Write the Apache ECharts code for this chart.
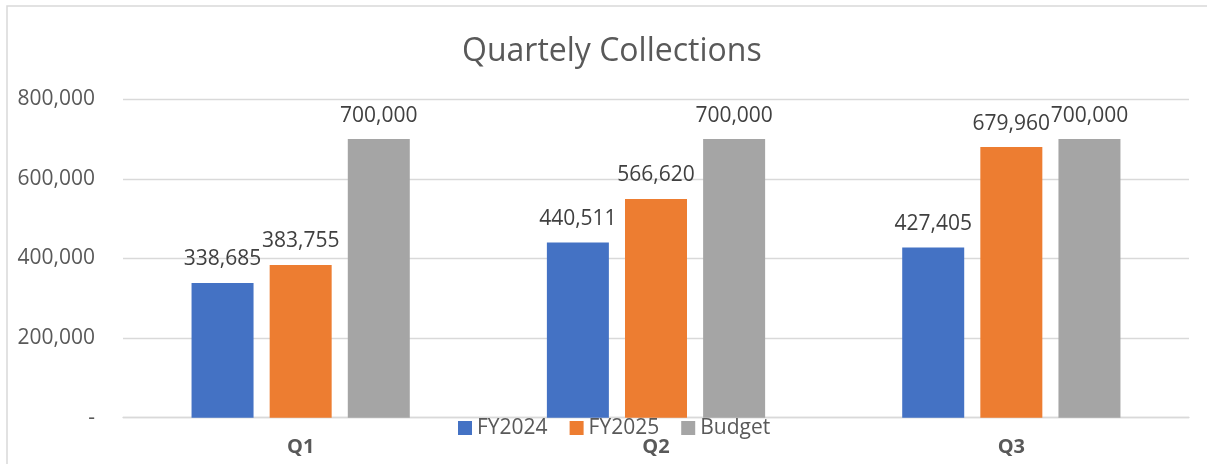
<!DOCTYPE html>
<html>
<head>
<meta charset="utf-8">
<script src="https://cdn.jsdelivr.net/npm/echarts@6/dist/echarts.min.js"></script>
<style>
  html, body { margin: 0; padding: 0; background: #fff; }
  #main { width: 1207px; height: 464px; }
</style>
</head>
<body>
<div id="main"></div>
<script>
// chart data
var categories = ['Q1', 'Q2', 'Q3'];
var fy2024 = [338685, 440511, 427405];
var fy2025 = [383755, 549500, 679960];        // bar heights as drawn
var fy2025Labels = [383755, 566620, 679960];  // numbers printed above the bars
var budget = [700000, 700000, 700000];
var yTicks = [0, 200000, 400000, 600000, 800000];

var FONT = '"Open Sans", "Liberation Sans", sans-serif';

function fmt(v) {
    return v === 0 ? '-' : Number(v).toLocaleString('en-US');
}

var chart = echarts.init(document.getElementById('main'), null, {renderer: 'canvas'});

var labelStyle = {
    show: true,
    position: 'top',
    distance: 13,
    color: '#404040',
    fontFamily: FONT,
    fontSize: 21
};

chart.setOption({
    animation: false,
    backgroundColor: '#ffffff',
    title: {
        text: 'Quartely Collections',
        left: 457,
        top: 31,
        textStyle: { color: '#595959', fontFamily: FONT, fontSize: 32, fontWeight: 'normal' }
    },
    graphic: [{
        type: 'rect',
        shape: { x: 7, y: 6, width: 1300, height: 600 },
        style: { fill: 'none', stroke: '#d9d9d9', lineWidth: 1.5 },
        silent: true
    }],
    legend: {
        left: 458,
        top: 417,
        padding: 0,
        icon: 'rect',
        itemWidth: 14,
        itemHeight: 14,
        itemGap: 22,
        textStyle: { color: '#595959', fontFamily: FONT, fontSize: 21, lineHeight: 22 },
        data: ['FY2024', 'FY2025', 'Budget']
    },
    grid: { left: 123, right: 18, top: 99.3, bottom: 46.3 },
    xAxis: {
        type: 'category',
        data: categories,
        axisTick: { show: false },
        axisLine: { lineStyle: { color: '#d9d9d9', width: 1.3 } },
        axisLabel: {
            margin: 20,
            color: '#595959',
            fontFamily: FONT,
            fontSize: 20,
            fontWeight: 'bold'
        }
    },
    yAxis: {
        type: 'value',
        min: yTicks[0],
        max: yTicks[yTicks.length - 1],
        interval: yTicks[1] - yTicks[0],
        axisLine: { show: false },
        axisTick: { show: false },
        splitLine: { lineStyle: { color: '#d9d9d9', width: 1.3 } },
        axisLabel: {
            margin: 28,
            color: '#595959',
            fontFamily: FONT,
            fontSize: 21,
            formatter: fmt
        }
    },
    series: [
        {
            name: 'FY2024', type: 'bar', data: fy2024,
            barWidth: 62, barGap: '26%',
            itemStyle: { color: '#4472C4' },
            label: Object.assign({}, labelStyle, { formatter: function (p) { return fmt(p.value); } })
        },
        {
            name: 'FY2025', type: 'bar', data: fy2025,
            barWidth: 62, barGap: '26%',
            itemStyle: { color: '#ED7D31' },
            label: Object.assign({}, labelStyle, { formatter: function (p) { return fmt(fy2025Labels[p.dataIndex]); } })
        },
        {
            name: 'Budget', type: 'bar', data: budget,
            barWidth: 62, barGap: '26%',
            itemStyle: { color: '#A5A5A5' },
            label: Object.assign({}, labelStyle, { formatter: function (p) { return fmt(p.value); } })
        }
    ]
});
</script>
</body>
</html>
